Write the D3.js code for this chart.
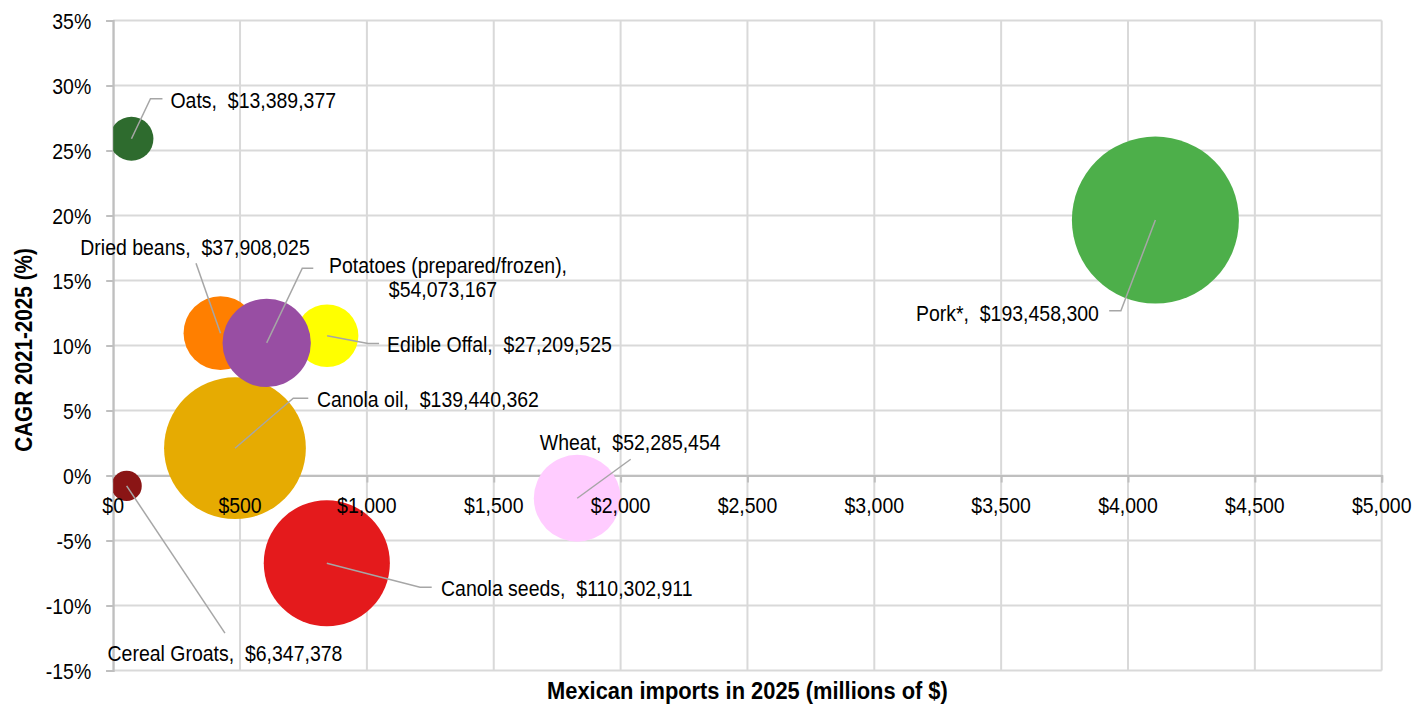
<!DOCTYPE html>
<html lang="en">
  <head>
    <meta charset="UTF-8" />
    <title>Mexican imports bubble chart</title>
    <style>
      body { margin: 0; background: #fff; }
      text { font-family: "Liberation Sans", Arial, sans-serif; fill: #000; white-space: pre; }
    </style>
  </head>
  <body>
    <div id="chart"></div>
    <script src="https://d3js.org/d3.v7.min.js"></script>
    <script>
      // data
      var categories = ["Oats", "Dried beans", "Edible Offal", "Canola oil", "Cereal Groats",
        "Canola seeds", "Wheat", "Potatoes (prepared/frozen)", "Pork*"];
      var importsM = [72, 423, 843, 480, 53, 842, 1829, 605, 4108];
      var cagr = [25.9, 10.95, 10.75, 2.1, -0.8, -6.75, -1.75, 10.2, 19.65];
      var bubbleValues = [13389377, 37908025, 27209525, 139440362, 6347378,
        110302911, 52285454, 54073167, 193458300];
      var colors = ["#2e6b2e", "#ff7f00", "#ffff00", "#e6ab02", "#8a1515",
        "#e41a1c", "#ffccff", "#984ea3", "#4daf4a"];
      var xTicks = d3.range(0, 5001, 500);
      var yTicks = d3.range(-15, 36, 5);

      // label placement (pixel offsets from bubble centre)
      var labelLayout = [
        { pts: [[19, -40], [31, -40]], tx: 39, ty: -31, anchor: "start" },
        { pts: [[-24.5, -70]], tx: -25.5, ty: -78, anchor: "middle" },
        { pts: [[41, 7.7], [52, 7.7]], tx: 60, ty: 16.7, anchor: "start" },
        { pts: [[58.3, -50], [73.3, -50]], tx: 82, ty: -41, anchor: "start" },
        { pts: [[98.3, 147.3]], tx: 98.3, ty: 174.7, anchor: "middle" },
        { pts: [[93.2, 24], [104.9, 24]], tx: 114.2, ty: 32.7, anchor: "start" },
        { pts: [[53.5, -39]], tx: 53, ty: -48.7, anchor: "middle" },
        { pts: [[35.6, -74.7], [46.6, -74.7]], tx: 181.3, ty: -69.7, anchor: "middle",
          wrap: { tx: 176.3, ty: -46.3 } },
        { pts: [[-34.5, 90.7], [-46.2, 90.7]], tx: -56.5, ty: 101, anchor: "end" }
      ];

      var W = 1414, H = 704;
      var margin = { top: 20.5, right: 32.3, bottom: 33.5, left: 113.2 };
      var width = W - margin.left - margin.right,
        height = H - margin.top - margin.bottom;

      var svg = d3.select("#chart").append("svg")
        .attr("width", W).attr("height", H);
      var g = svg.append("g")
        .attr("transform", "translate(" + margin.left + "," + margin.top + ")");

      var x = d3.scaleLinear().domain([0, 5000]).range([0, width]);
      var y = d3.scaleLinear().domain([-15, 35]).range([height, 0]);
      var r = d3.scaleSqrt().domain([0, d3.max(bubbleValues)]).range([0, 83.5]);

      var gridColor = "#d9d9d9", axisColor = "#bfbfbf";

      // gridlines
      g.selectAll(".vgrid").data(xTicks).enter().append("line")
        .attr("x1", function (d) { return x(d); })
        .attr("x2", function (d) { return x(d); })
        .attr("y1", 0).attr("y2", height)
        .attr("stroke", gridColor).attr("stroke-width", 2);
      g.selectAll(".hgrid").data(yTicks).enter().append("line")
        .attr("y1", function (d) { return y(d); })
        .attr("y2", function (d) { return y(d); })
        .attr("x1", 0).attr("x2", width)
        .attr("stroke", gridColor).attr("stroke-width", 2);

      // axes (x crosses at 0%)
      var xAxis = g.append("g")
        .attr("transform", "translate(0," + y(0) + ")")
        .call(d3.axisBottom(x).tickValues(xTicks).tickSize(7).tickFormat(""));
      var yAxis = g.append("g")
        .call(d3.axisLeft(y).tickValues(yTicks).tickSize(7).tickFormat(""));
      [xAxis, yAxis].forEach(function (a) {
        a.select(".domain").attr("stroke", axisColor).attr("stroke-width", 2);
        a.selectAll(".tick line").attr("stroke", axisColor).attr("stroke-width", 2);
      });

      // bubbles
      svg.append("clipPath").attr("id", "plotClip").append("rect")
        .attr("width", width).attr("height", height);
      var idx = d3.range(categories.length);
      g.append("g").attr("clip-path", "url(#plotClip)")
        .selectAll("circle").data(idx).enter().append("circle")
        .attr("cx", function (i) { return x(importsM[i]); })
        .attr("cy", function (i) { return y(cagr[i]); })
        .attr("r", function (i) { return r(bubbleValues[i]); })
        .attr("fill", function (i) { return colors[i]; });

      // leader lines
      g.selectAll(".leader").data(idx).enter().append("polyline")
        .attr("points", function (i) {
          var cx = x(importsM[i]), cy = y(cagr[i]);
          var p = [[cx, cy]].concat(labelLayout[i].pts.map(function (q) {
            return [cx + q[0], cy + q[1]];
          }));
          return p.map(function (q) { return q.join(","); }).join(" ");
        })
        .attr("fill", "none").attr("stroke", "#a6a6a6").attr("stroke-width", 1.5);

      // tick labels
      var fmt = d3.format(",");
      g.selectAll(".xlab").data(xTicks).enter().append("text")
        .attr("class", "sq")
        .attr("x", function (d) { return x(d); })
        .attr("y", y(0) + 37.5)
        .attr("text-anchor", "middle").attr("font-size", "22px")
        .text(function (d) { return "$" + fmt(d); });
      g.selectAll(".ylab").data(yTicks).enter().append("text")
        .attr("class", "sq")
        .attr("x", -22)
        .attr("y", function (d) { return y(d) + 8.5; })
        .attr("text-anchor", "end").attr("font-size", "22px")
        .text(function (d) { return d + "%"; });

      // data labels
      idx.forEach(function (i) {
        var cx = x(importsM[i]), cy = y(cagr[i]), L = labelLayout[i];
        var val = "$" + fmt(bubbleValues[i]);
        var lines = L.wrap ? [[categories[i] + ",", L.tx, L.ty], [val, L.wrap.tx, L.wrap.ty]]
          : [[categories[i] + ",  " + val, L.tx, L.ty]];
        lines.forEach(function (ln) {
          g.append("text").attr("class", "sq")
            .attr("x", cx + ln[1]).attr("y", cy + ln[2])
            .attr("text-anchor", L.anchor).attr("font-size", "22px")
            .text(ln[0]);
        });
      });

      // axis titles
      svg.append("text").attr("class", "sqx")
        .attr("x", margin.left + width / 2).attr("y", 699)
        .attr("text-anchor", "middle").attr("font-size", "23px").attr("font-weight", "bold")
        .text("Mexican imports in 2025 (millions of $)");
      svg.append("text").attr("class", "sqy")
        .attr("transform", "translate(32," + 350 + ") rotate(-90)")
        .attr("text-anchor", "middle").attr("font-size", "23px").attr("font-weight", "bold")
        .text("CAGR 2021-2025 (%)");

      // the original font is a bit narrower than Arial
      function squeeze(sel, f) {
        sel.each(function () {
          var len = this.getComputedTextLength();
          d3.select(this).attr("textLength", len * f).attr("lengthAdjust", "spacingAndGlyphs");
        });
      }
      squeeze(svg.selectAll("text.sq"), 0.885);
      squeeze(svg.selectAll("text.sqx"), 0.95);
      squeeze(svg.selectAll("text.sqy"), 0.9);
    </script>
  </body>
</html>
